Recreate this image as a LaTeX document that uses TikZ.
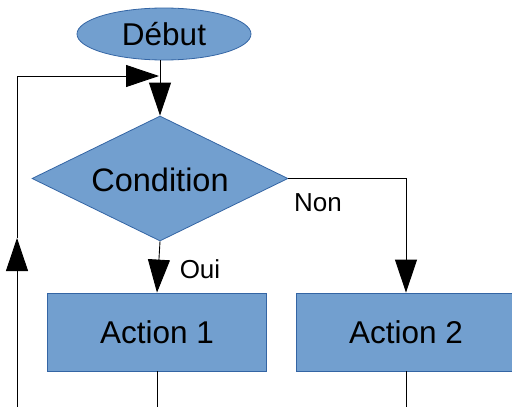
\documentclass[tikz,border=0pt]{standalone}
\usepackage{fontspec}
\setmainfont{Liberation Sans}
\usetikzlibrary{shapes.geometric,arrows.meta}
\definecolor{boxfill}{HTML}{729FCF}
\definecolor{boxline}{HTML}{3465A4}
\tikzset{
  shapebox/.style={fill=boxfill,draw=boxline,line width=0.8pt,inner sep=0pt,font=\fontsize{31.5}{36}\selectfont},
  startshape/.style={shapebox,ellipse,minimum width=174pt,minimum height=52pt},
  condshape/.style={shapebox,diamond,aspect=2.05,minimum width=256pt,minimum height=125pt},
  actionshape/.style={shapebox,rectangle,minimum width=219pt,minimum height=78pt},
  conn/.style={draw=black,line width=0.9pt},
  bigtip/.style={-{Triangle[length=33pt,width=22pt]}},
  lbl/.style={font=\fontsize{26}{30}\selectfont,inner sep=0pt}
}
\begin{document}
\begin{tikzpicture}[x=1pt,y=-1pt]
\useasboundingbox (0,0) rectangle (512,407);
\node[startshape] (debut) at (164,34) {Début};
\node[condshape] (cond) at (160,178.5) {};
\node[font=\fontsize{32.5}{36}\selectfont,inner sep=0pt] (condtxt) at (160,180) {Condition};
\node[actionshape] (a1) at (157,332) {Action 1};
\node[actionshape] (a2) at (406,332) {Action 2};
\coordinate (dtop) at (160,60);
\coordinate (loopjoin) at (159,76);
\coordinate (loopcorner) at (17,76);
\coordinate (loopmid) at (17,238);
\coordinate (loopbottom) at (17,407);
\coordinate (a1out) at (157,407);
\coordinate (a2out) at (406,407);
\draw[conn,bigtip] (dtop) -- (cond.north);
\draw[conn,bigtip] (loopbottom) -- (loopmid);
\draw[conn,bigtip] (loopmid) -- (loopcorner) -- (loopjoin);
\draw[conn,bigtip] (cond.south) -- (a1.north);
\draw[conn,bigtip] (cond.east) -| (a2.north);
\draw[conn] (a1.south) -- (a1out);
\draw[conn] (a2.south) -- (a2out);
\node[lbl] (oui) at (200,269) {Oui};
\node[lbl] (non) at (318,203) {Non};
\end{tikzpicture}
\end{document}
